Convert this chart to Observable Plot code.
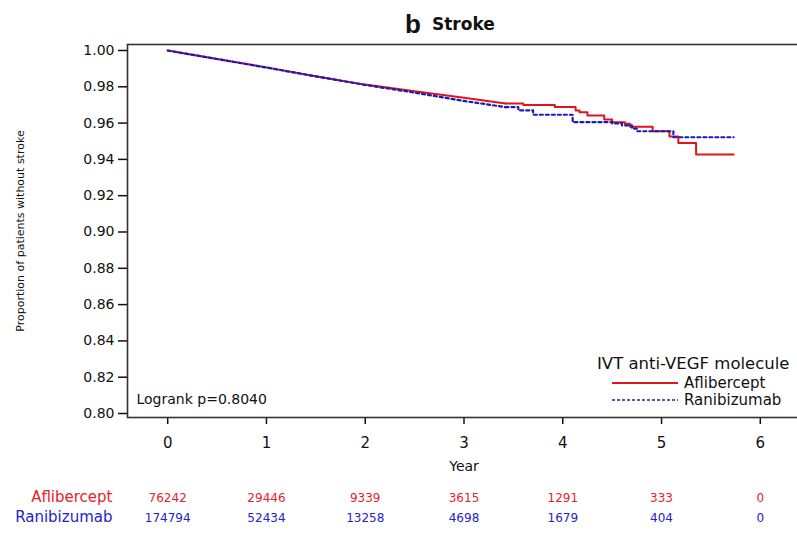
<!DOCTYPE html>
<html>
<head>
<meta charset="utf-8">
<script src="https://cdn.jsdelivr.net/npm/d3@7"></script>
<script src="https://cdn.jsdelivr.net/npm/@observablehq/plot@0.6"></script>
<style>
  html, body { margin: 0; padding: 0; background: #fff; }
  #wrap { position: relative; width: 797px; height: 533px; overflow: hidden; font-family: "DejaVu Sans", sans-serif; }
  #legend { position: absolute; left: 0; top: 0; pointer-events: none; }
</style>
</head>
<body>
<div id="wrap"></div>
<script>
// ---- data ----
const years = [0, 1, 2, 3, 4, 5, 6];
const yTicks = [0.80, 0.82, 0.84, 0.86, 0.88, 0.90, 0.92, 0.94, 0.96, 0.98, 1.00];
const afliAtRisk = [76242, 29446, 9339, 3615, 1291, 333, 0];
const raniAtRisk = [174794, 52434, 13258, 4698, 1679, 404, 0];

// early, densely-stepped part of the KM curves (looks continuous)
const afliEarlyT = [0, 0.5, 1, 1.5, 2, 2.5, 3, 3.42];
const afliEarlyS = [1.000, 0.9953, 0.9907, 0.9858, 0.9812, 0.9775, 0.9740, 0.9708];
const raniEarlyT = [0, 0.5, 1, 1.5, 2, 2.5, 3, 3.42];
const raniEarlyS = [1.000, 0.9953, 0.9906, 0.9857, 0.9810, 0.9768, 0.9722, 0.9688];

// later, visibly stepped part
const afliStepT = [3.42, 3.60, 3.92, 4.13, 4.17, 4.25, 4.42, 4.50, 4.63, 4.68, 4.91, 5.08, 5.17, 5.35, 5.73];
const afliStepS = [0.9708, 0.9700, 0.9688, 0.9670, 0.9660, 0.9642, 0.9620, 0.9605, 0.9596, 0.9580, 0.9555, 0.9526, 0.9490, 0.9427, 0.9427];
const raniStepT = [3.42, 3.55, 3.70, 4.10, 4.50, 4.60, 4.70, 4.75, 5.12, 5.73];
const raniStepS = [0.9688, 0.9670, 0.9646, 0.9605, 0.9598, 0.9587, 0.9570, 0.9555, 0.9522, 0.9522];

const RED = "#e0141c";
const BLUE = "#1a1ab8";
const RED_TXT = "#e5232b";
const BLUE_TXT = "#2323c8";

const zip = (T, S) => T.map((t, i) => ({t, s: S[i]}));
const afliEarly = zip(afliEarlyT, afliEarlyS);
const raniEarly = zip(raniEarlyT, raniEarlyS);
const afliStep = zip(afliStepT, afliStepS);
const raniStep = zip(raniStepT, raniStepS);

const chart = Plot.plot({
  width: 797,
  height: 533,
  marginLeft: 127,
  marginRight: -3,
  marginTop: 44,
  marginBottom: 116,
  style: {fontFamily: "DejaVu Sans", background: "white", color: "#111"},
  x: {domain: [-0.407, 6.407], axis: null},
  y: {domain: [0.7978, 1.0033], axis: null},
  marks: [
    Plot.axisY(yTicks, {tickFormat: d3.format(".2f"), tickSize: 9, tickPadding: 4, fontSize: 14, strokeWidth: 1.5, stroke: "#111", label: null}),
    Plot.axisX(years, {tickSize: 7, tickPadding: 13, fontSize: 15, strokeWidth: 1.5, stroke: "#111", label: null}),
    Plot.frame({stroke: "#333", strokeWidth: 1.6}),
    Plot.line(afliEarly, {x: "t", y: "s", stroke: RED, strokeWidth: 2}),
    Plot.line(afliStep, {x: "t", y: "s", stroke: RED, strokeWidth: 2, curve: "step-after"}),
    Plot.line(raniEarly, {x: "t", y: "s", stroke: BLUE, strokeWidth: 2.2, strokeDasharray: "3,3"}),
    Plot.line(raniStep, {x: "t", y: "s", stroke: BLUE, strokeWidth: 2.2, strokeDasharray: "3,3", curve: "step-after"}),
    Plot.text(["Logrank p=0.8040"], {frameAnchor: "bottom-left", dx: 9, dy: -14, textAnchor: "start", fontSize: 14, fill: "#111"}),
    Plot.text(["Year"], {frameAnchor: "bottom", dy: 53, fontSize: 14, fill: "#111"}),
    Plot.text(years, {x: d => d, text: (d, i) => String(afliAtRisk[i]), frameAnchor: "bottom", dy: 84, fontSize: 12, fill: RED_TXT}),
    Plot.text(years, {x: d => d, text: (d, i) => String(raniAtRisk[i]), frameAnchor: "bottom", dy: 104, fontSize: 12, fill: BLUE_TXT}),
    Plot.text(["Aflibercept"], {frameAnchor: "bottom-left", dx: -15, dy: 84, textAnchor: "end", fontSize: 15, fill: RED_TXT}),
    Plot.text(["Ranibizumab"], {frameAnchor: "bottom-left", dx: -15, dy: 104, textAnchor: "end", fontSize: 15, fill: BLUE_TXT}),
    Plot.text(["Proportion of patients without stroke"], {frameAnchor: "left", textAnchor: "middle", rotate: -90, dx: -107, fontSize: 11, fill: "#111"}),
    Plot.text(["b"], {frameAnchor: "top", dx: -51, dy: -30, fontSize: 26, fontWeight: "bold", fontFamily: "Liberation Sans", fill: "#111"}),
    Plot.text(["Stroke"], {frameAnchor: "top", dx: -32, dy: -27, textAnchor: "start", fontSize: 17, fontWeight: "bold", fill: "#111"})
  ]
});
document.getElementById("wrap").appendChild(chart);

// legend overlay
const lg = d3.select("#wrap").append("svg").attr("id", "legend").attr("width", 797).attr("height", 533)
  .style("font-family", "DejaVu Sans");
lg.append("text").attr("x", 597).attr("y", 363).attr("dy", "0.35em").attr("font-size", 16.5).attr("fill", "#111").text("IVT anti-VEGF molecule");
const items = [
  {name: "Aflibercept", color: RED, dash: null, w: 2},
  {name: "Ranibizumab", color: BLUE, dash: "3,2", w: 1.6}
];
items.forEach((it, i) => {
  const y = 383 + i * 17;
  const ln = lg.append("line").attr("x1", 612).attr("x2", 678).attr("y1", y).attr("y2", y)
    .attr("stroke", it.color).attr("stroke-width", it.w);
  if (it.dash) ln.attr("stroke-dasharray", it.dash);
  lg.append("text").attr("x", 684).attr("y", y).attr("dy", "0.35em").attr("font-size", 15).attr("fill", "#111").text(it.name);
});
</script>
</body>
</html>
